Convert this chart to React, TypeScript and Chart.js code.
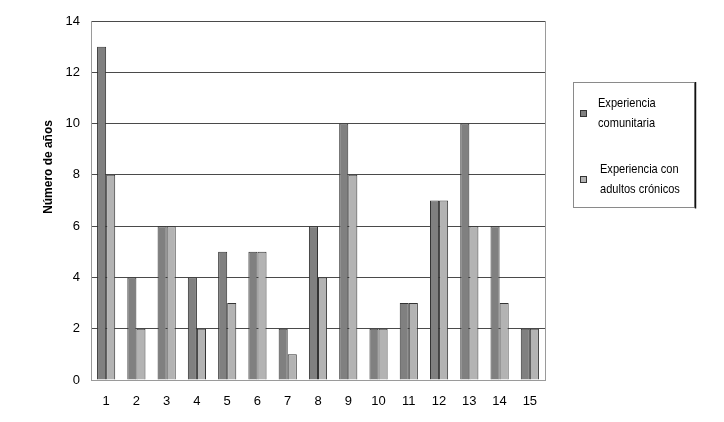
import { useEffect, useRef } from "react";
import { Chart, registerables } from "chart.js";

Chart.register(...registerables);

const categories = ["1", "2", "3", "4", "5", "6", "7", "8", "9", "10", "11", "12", "13", "14", "15"];
const comunitaria = [13, 4, 6, 4, 5, 5, 2, 6, 10, 2, 3, 7, 10, 6, 2];
const cronicos = [8, 2, 6, 2, 3, 5, 1, 4, 8, 2, 3, 7, 6, 3, 2];
const legendLines = [
  ["Experiencia", "comunitaria"],
  ["Experiencia con", "adultos crónicos"],
];
const yTitle = "Número de años";

const FONT = "'Liberation Sans', Arial, sans-serif";

const framePlugin = {
  id: "frame",
  afterDraw(chart: any) {
    const { ctx, chartArea } = chart;
    ctx.save();
    // right edge of the plot
    ctx.strokeStyle = "#9a9a9a";
    ctx.lineWidth = 1;
    ctx.beginPath();
    ctx.moveTo(Math.round(chartArea.right) + 0.5, chartArea.top);
    ctx.lineTo(Math.round(chartArea.right) + 0.5, chartArea.bottom);
    ctx.stroke();

    // y title (text looks narrow in the source, squeeze it a bit)
    ctx.fillStyle = "#000";
    ctx.font = "bold 13px " + FONT;
    ctx.translate(48, 167);
    ctx.rotate(-Math.PI / 2);
    ctx.scale(0.92, 1);
    ctx.textAlign = "center";
    ctx.textBaseline = "middle";
    ctx.fillText(yTitle, 0, 0);
    ctx.restore();

    // legend box
    ctx.save();
    ctx.fillStyle = "#fff";
    ctx.fillRect(573, 82, 121, 125);
    ctx.strokeStyle = "#8a8a8a";
    ctx.strokeRect(573.5, 82.5, 121, 125);
    ctx.strokeStyle = "#111";
    ctx.lineWidth = 1.5;
    ctx.beginPath();
    ctx.moveTo(695.5, 82);
    ctx.lineTo(695.5, 208.5);
    ctx.stroke();
    const itemY = [113, 179];
    const textX = [598, 600];
    chart.data.datasets.forEach((ds: any, i: number) => {
      ctx.fillStyle = ds.backgroundColor;
      ctx.fillRect(580, itemY[i] - 3, 7, 7);
      ctx.strokeStyle = "#333";
      ctx.lineWidth = 1;
      ctx.strokeRect(580.5, itemY[i] - 2.5, 6, 6);
      ctx.fillStyle = "#000";
      legendLines[i].forEach((line, j) => {
        ctx.save();
        ctx.translate(textX[i], itemY[i] - 10 + j * 20);
        ctx.scale(0.85, 1);
        ctx.font = "13px " + FONT;
        ctx.textBaseline = "middle";
        ctx.textAlign = "left";
        ctx.fillText(line, 0, 0);
        ctx.restore();
      });
    });
    ctx.restore();
  },
};

export default function App() {
  const canvasRef = useRef<HTMLCanvasElement | null>(null);
  const chartRef = useRef<Chart | null>(null);

  useEffect(() => {
    if (!canvasRef.current) return;
    chartRef.current = new Chart(canvasRef.current, {
      type: "bar",
      data: {
        labels: categories,
        datasets: [
          {
            label: legendLines[0].join(" "),
            data: comunitaria,
            backgroundColor: "#808080",
            borderColor: "#333333",
            borderWidth: 1,
            barPercentage: 1,
            categoryPercentage: 0.6,
          },
          {
            label: legendLines[1].join(" "),
            data: cronicos,
            backgroundColor: "#b3b3b3",
            borderColor: "#333333",
            borderWidth: 1,
            barPercentage: 1,
            categoryPercentage: 0.6,
          },
        ],
      },
      options: {
        responsive: false,
        animation: false,
        layout: { padding: { top: 21, right: 179, left: 0, bottom: 0 } },
        plugins: {
          legend: { display: false },
          tooltip: { enabled: false },
        },
        scales: {
          x: {
            grid: { display: false, drawTicks: false },
            border: { color: "#9a9a9a", width: 1 },
            ticks: { color: "#000", font: { family: FONT, size: 13 }, padding: 14 },
            afterFit: (s: any) => {
              s.height = 42;
            },
          },
          y: {
            min: 0,
            max: 14,
            ticks: { stepSize: 2, color: "#000", font: { family: FONT, size: 13 }, padding: 11 },
            grid: {
              drawTicks: false,
              color: (c: any) => (c.tick && c.tick.value === 0 ? "rgba(0,0,0,0)" : "#4a4a4a"),
            },
            border: { color: "#9a9a9a", width: 1 },
            afterFit: (s: any) => {
              s.width = 91;
            },
          },
        },
      },
      plugins: [framePlugin],
    });
    return () => {
      chartRef.current?.destroy();
    };
  }, []);

  return (
    <div style={{ position: "absolute", left: 0, top: 0, width: 724, height: 422, background: "#fff" }}>
      <canvas ref={canvasRef} width={724} height={422} />
    </div>
  );
}
